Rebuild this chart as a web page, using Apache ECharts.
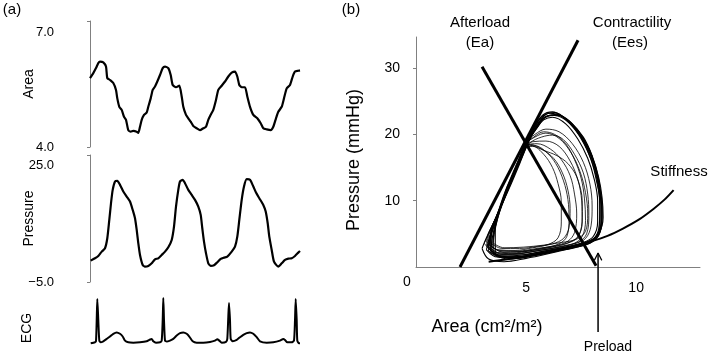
<!DOCTYPE html>
<html>
<head>
<meta charset="utf-8">
<script src="https://cdn.jsdelivr.net/npm/echarts@6/dist/echarts.min.js"></script>
<style>
  html, body { margin: 0; padding: 0; background: #fff; }
  #chart { width: 711px; height: 354px; }
</style>
</head>
<body>
<div id="chart"></div>
<script>
// (a) 时间轴 ms
const areaTrace = [
  [0,5.80],[33,5.93],[60,6.06],[83,6.19],[100,6.23],[133,6.21],[160,6.10],[173,5.80],[200,5.75],[233,5.67],
  [260,5.49],[273,5.27],[293,5.05],[317,4.97],[340,4.79],[360,4.71],[383,4.44],[407,4.40],[433,4.42],[467,4.40],
  [483,4.37],[500,4.53],[517,4.71],[540,4.84],[567,4.90],[583,5.05],[607,5.27],[627,5.49],[650,5.58],[673,5.71],
  [700,5.88],[727,6.06],[750,6.10],[783,6.06],[807,5.88],[827,5.62],[860,5.56],[893,5.60],[917,5.32],[933,5.05],
  [960,4.84],[983,4.75],[1007,4.66],[1033,4.55],[1067,4.49],[1100,4.44],[1133,4.49],[1160,4.53],[1183,4.71],[1207,4.84],
  [1233,4.97],[1260,5.23],[1283,5.49],[1317,5.60],[1350,5.71],[1383,5.84],[1417,5.94],[1450,5.97],[1473,5.84],[1493,5.62],
  [1517,5.56],[1550,5.56],[1573,5.32],[1600,5.05],[1633,4.84],[1673,4.75],[1707,4.62],[1733,4.49],[1767,4.46],[1807,4.44],
  [1833,4.53],[1860,4.75],[1883,4.92],[1917,5.05],[1940,5.27],[1967,5.53],[2000,5.62],[2027,5.84],[2050,5.97],[2083,5.99],[2100,6.00]
]

const pressureTrace = [
  [7,0.52],[50,1.12],[83,1.72],[117,2.84],[150,3.71],[173,6.29],[193,11.03],[210,15.34],[227,18.79],[250,20.95],
  [273,21.12],[300,20.09],[333,18.36],[367,17.07],[400,15.78],[427,13.62],[450,11.47],[467,8.45],[483,5.0],[500,1.98],
  [527,-0.60],[550,-1.03],[583,-0.86],[617,-0.17],[650,0.86],[683,1.12],[717,1.98],[750,2.84],[783,3.97],[817,5.86],
  [840,9.31],[860,14.48],[883,18.79],[900,20.95],[927,21.38],[950,20.52],[983,18.79],[1017,17.50],[1050,16.21],[1083,14.48],
  [1107,12.33],[1123,8.88],[1140,5.43],[1160,2.41],[1183,-0.17],[1207,-0.86],[1240,-0.69],[1273,0.09],[1307,0.95],[1340,1.29],
  [1373,1.55],[1417,2.84],[1450,4.14],[1473,6.72],[1493,11.03],[1517,16.21],[1540,19.66],[1567,21.55],[1600,21.38],[1633,19.66],
  [1660,18.10],[1693,16.64],[1733,14.91],[1757,13.19],[1777,10.17],[1793,6.72],[1817,3.28],[1840,0.26],[1883,-1.03],[1917,-0.17],
  [1950,0.69],[1983,1.03],[2017,1.12],[2050,1.72],[2083,2.59],[2100,3.02]
]

const ecgTrace = [
  [7,-0.03],[50,0],[60,0.03],[67,0.65],[73,1.27],[83,0.65],[93,0.05],[107,0],[133,0.03],[167,0.10],
  [200,0.17],[233,0.25],[267,0.29],[300,0.25],[327,0.17],[350,0.05],[383,0],[433,-0.01],[500,0],[567,0.03],
  [593,0.07],[617,0.10],[633,0.03],[660,-0.01],[700,0],[717,0.05],[727,0.65],[733,1.30],[740,0.65],[750,0.05],
  [767,0.02],[800,0.05],[833,0.10],[867,0.20],[900,0.27],[933,0.29],[967,0.25],[993,0.17],[1027,0.03],[1067,-0.01],
  [1133,-0.01],[1200,0.01],[1250,0.05],[1273,0.09],[1293,0.05],[1317,-0.01],[1360,0.01],[1373,0.10],[1383,0.75],[1390,1.15],
  [1400,0.65],[1407,0.10],[1427,0.03],[1467,0.07],[1500,0.15],[1533,0.22],[1567,0.27],[1600,0.29],[1633,0.25],[1667,0.15],
  [1700,0.03],[1767,-0.01],[1833,0],[1900,0.05],[1933,0.10],[1950,0.07],[1973,0],[2017,0],[2040,0.05],[2050,0.65],
  [2057,1.27],[2067,0.65],[2073,0.05],[2090,-0.03],[2100,-0.03]
]

// (b) 压力-面积环 [area, pressure]
const outerLoops = [
  [[3.4,2.2],[4.0,1.6],[5.0,1.9],[6.0,2.5],[7.0,3.1],[7.8,3.7],[8.2,4.6],[8.4,6.5],[8.4,9.5],[8.3,12.5],[8.1,15.5],[7.7,18.5],[7.2,21],[6.6,22.8],[6.1,23.2],[5.7,22.6],[5.3,20.5],[5.0,18.6],[4.6,15.4],[4.1,11.8],[3.7,8],[3.4,4.8],[3.4,2.2]],
  [[3.2,2.6],[3.7,1.5],[4.6,1.5],[5.6,2.1],[6.6,2.8],[7.5,3.5],[8.1,4.3],[8.35,6.2],[8.35,9.8],[8.2,13],[7.95,16.2],[7.5,19.5],[6.9,22],[6.3,23.3],[5.9,23],[5.5,21.5],[5.1,19.2],[4.7,15.8],[4.2,12],[3.7,7.8],[3.35,4.6],[3.2,2.6]],
  [[3.5,2.0],[4.2,1.2],[5.2,1.6],[6.2,2.3],[7.2,3.0],[7.9,3.8],[8.3,5.0],[8.5,7.5],[8.45,10.5],[8.3,13.5],[8.0,16.8],[7.6,19.6],[7.0,21.9],[6.5,22.9],[6.0,22.8],[5.6,21.8],[5.25,19.8],[4.95,17.6],[4.5,14.2],[4.0,10.5],[3.65,6.6],[3.5,3.8],[3.5,2.0]],
  [[3.3,3.0],[3.8,1.8],[4.8,1.8],[5.8,2.4],[6.8,3.0],[7.6,3.7],[8.05,4.6],[8.25,6.8],[8.25,10],[8.1,13.2],[7.8,16.4],[7.35,19.3],[6.8,21.6],[6.2,22.6],[5.8,22.2],[5.45,20.8],[5.1,18.9],[4.75,16.2],[4.3,12.6],[3.8,8.6],[3.45,5.2],[3.3,3.0]],
  [[3.6,1.8],[4.4,1.3],[5.4,1.8],[6.4,2.4],[7.3,3.0],[8.0,3.8],[8.35,5.2],[8.45,8.2],[8.35,11.5],[8.2,14.3],[7.9,17.5],[7.4,20.4],[6.9,22.2],[6.3,23.0],[5.85,22.5],[5.5,21],[5.15,19.4],[4.85,17.2],[4.4,13.6],[3.9,9.6],[3.6,5.8],[3.6,1.8]],
  [[3.0,2.8],[3.3,1.2],[4.0,0.8],[5.0,1.3],[6.0,2.0],[7.0,2.8],[7.9,3.6],[8.3,4.8],[8.45,7.0],[8.4,10.2],[8.25,13.2],[8.0,16.2],[7.6,19.2],[7.0,21.8],[6.4,22.9],[5.9,22.7],[5.5,21.2],[5.15,19.2],[4.7,15.5],[4.2,11.6],[3.6,7.2],[3.2,4.4],[3.0,2.8]],
  [[3.3,2.4],[3.9,1.4],[4.9,1.6],[5.9,2.2],[6.9,2.9],[7.7,3.6],[8.15,4.5],[8.4,6.4],[8.45,9.2],[8.35,12.2],[8.15,15.2],[7.8,18.2],[7.3,20.8],[6.7,22.6],[6.2,23.4],[5.75,22.9],[5.35,21.0],[5.05,19.0],[4.65,15.6],[4.15,11.8],[3.65,7.4],[3.35,4.4],[3.3,2.4]],
  [[3.4,2.5],[3.8,1.7],[4.7,1.6],[5.7,2.2],[6.7,2.9],[7.6,3.6],[8.1,4.4],[8.3,5.8],[8.35,8.6],[8.3,11.6],[8.1,14.8],[7.75,17.8],[7.25,20.6],[6.7,22.4],[6.15,22.9],[5.7,22.2],[5.35,20.4],[5.05,18.7],[4.7,16.0],[4.25,12.4],[3.8,8.4],[3.5,5.0],[3.4,2.5]]
]

const innerLoops = [
  [[3.2,3.3],[3.6,2.0],[4.4,1.9],[5.4,2.4],[6.4,2.9],[7.2,3.5],[7.7,4.3],[7.95,6.2],[8.0,9.2],[7.9,12.5],[7.6,15.8],[7.1,18.6],[6.5,20.4],[5.9,20.8],[5.4,20.0],[5.05,18.9],[4.7,16.4],[4.25,12.8],[3.75,8.4],[3.35,5.2],[3.2,3.3]],
  [[3.4,2.8],[3.9,1.9],[4.8,2.1],[5.8,2.6],[6.7,3.2],[7.4,3.8],[7.75,5.0],[7.85,7.8],[7.8,11],[7.6,14.2],[7.2,17],[6.7,19.2],[6.2,19.9],[5.7,19.6],[5.2,18.8],[4.9,17.6],[4.5,14.6],[4.05,11],[3.6,6.8],[3.4,4.4],[3.4,2.8]],
  [[3.1,3.6],[3.5,2.3],[4.3,2.1],[5.3,2.5],[6.2,3.0],[6.9,3.6],[7.35,4.5],[7.55,6.8],[7.55,10],[7.35,13.2],[7.0,16],[6.5,18.2],[5.9,19.0],[5.3,18.9],[5.0,18.3],[4.65,15.6],[4.2,12],[3.7,7.8],[3.3,5],[3.1,3.6]],
  [[3.3,3.4],[3.8,2.5],[4.6,2.4],[5.5,2.8],[6.3,3.2],[6.9,3.9],[7.2,5.2],[7.3,8],[7.2,11],[7.0,13.8],[6.6,16.2],[6.1,17.8],[5.5,18.6],[5.05,18.4],[4.8,17.0],[4.4,13.8],[3.95,10],[3.5,6.4],[3.3,3.4]],
  [[3.5,2.9],[4.0,2.2],[4.9,2.4],[5.8,2.9],[6.5,3.5],[6.85,4.6],[6.95,7.2],[6.9,10.2],[6.7,13],[6.35,15.6],[5.9,17.4],[5.4,18.3],[5.0,18.1],[4.75,16.8],[4.35,13.6],[3.9,9.6],[3.55,5.8],[3.5,2.9]],
  [[3.2,3.8],[3.7,2.6],[4.5,2.5],[5.3,2.9],[6.0,3.4],[6.45,4.4],[6.6,6.8],[6.6,9.8],[6.45,12.6],[6.2,15],[5.8,17],[5.3,18.2],[4.95,18.0],[4.6,15.8],[4.15,12.2],[3.65,7.6],[3.3,5.2],[3.2,3.8]],
  [[3.4,3.2],[3.9,2.3],[4.7,2.3],[5.6,2.7],[6.4,3.2],[7.0,3.8],[7.4,4.8],[7.55,7.5],[7.5,10.8],[7.3,13.6],[6.9,15.6],[6.4,16.8],[5.8,17.6],[5.3,18.3],[5.0,18.4],[4.7,16.2],[4.25,12.6],[3.8,8.6],[3.4,5.2],[3.4,3.2]],
  [[3.5,3.6],[4.0,2.9],[4.9,3.0],[5.8,3.3],[6.6,3.7],[7.3,4.2],[7.7,5.4],[7.8,8.0],[7.7,11.2],[7.45,14.4],[7.05,17.2],[6.5,19.4],[5.9,20.2],[5.4,19.6],[5.0,18.6],[4.6,15.2],[4.15,11.4],[3.7,7.2],[3.5,3.6]],
  [[3.3,3.1],[3.8,2.1],[4.6,2.0],[5.6,2.5],[6.5,3.0],[7.2,3.6],[7.55,4.6],[7.7,7.0],[7.65,10.4],[7.5,13.4],[7.2,16.2],[6.8,18.6],[6.3,20.0],[5.8,20.4],[5.35,19.6],[5.0,18.5],[4.6,15.4],[4.1,11.4],[3.65,7.2],[3.35,4.6],[3.3,3.1]],
  [[3.4,3.6],[3.9,2.8],[4.7,2.8],[5.5,3.1],[6.2,3.5],[6.7,4.3],[6.95,6.0],[7.0,8.8],[6.9,11.6],[6.65,14.2],[6.25,16.4],[5.7,17.8],[5.2,18.5],[4.95,18.2],[4.65,16.0],[4.2,12.4],[3.75,8.4],[3.45,5.4],[3.4,3.6]]
]

const eesLine = [[2.0, 0], [7.36, 34.2]]
const eaLine = [[3.0, 30.2], [8.18, 0.2]]
const stiffnessCurve = [[3.3,0.8],[4.0,1.1],[5.0,1.6],[6.0,2.2],[7.0,3.0],[8.0,3.9],[8.7,4.7],[9.4,5.8],[10.1,7.1],[10.8,8.8],[11.3,10.2],[11.7,11.6]]
const preloadShaft = [[8.27, -9.8], [8.27, 2.1]]
const preloadHead = [[8.1, 1.0], [8.27, 2.1], [8.44, 1.0]]

const areaLabels = [4, 7]
const pressureLabels = [-5, 25]
const pvYLabels = [10, 20, 30]
const pvXLabels = [0, 5, 10]

const FONT = 'Liberation Sans, Arial, sans-serif'
const axisGray = '#808080'

function traceSeries (data, idx, width) {
  return {
    type: 'line', xAxisIndex: idx, yAxisIndex: idx, data: data,
    showSymbol: false, smooth: 0.2, clip: false, silent: true,
    lineStyle: { color: '#000', width: width }
  }
}

function leftAxis (idx, min, max, labels, name) {
  return {
    gridIndex: idx, type: 'value', min: min, max: max, offset: 20,
    splitLine: { show: false },
    axisLine: { show: true, lineStyle: { color: axisGray, width: 1 } },
    axisTick: { show: true, length: 3, customValues: [min, max], lineStyle: { color: axisGray } },
    axisLabel: {
      customValues: labels, margin: 16, color: '#000', fontSize: 13, fontFamily: FONT,
      formatter: v => (v < 0 ? '\u2212' + Math.abs(v).toFixed(1) : v.toFixed(1))
    },
    name: name, nameLocation: 'middle', nameGap: 34, nameRotate: 90, nameMoveOverlap: false,
    nameTextStyle: { color: '#000', fontSize: 14, fontFamily: FONT }
  }
}

function txt (text, x, y, size, rot) {
  return {
    type: 'text', x: x, y: y, rotation: rot || 0,
    style: { text: text, fill: '#000', font: size + 'px ' + FONT, textAlign: 'center', textVerticalAlign: 'middle', align: 'center', verticalAlign: 'middle' }
  }
}

function pvSeries (data, width, smooth) {
  return {
    type: 'line', xAxisIndex: 3, yAxisIndex: 3, data: data,
    showSymbol: false, smooth: smooth, clip: false, silent: true,
    lineStyle: { color: '#000', width: width }
  }
}

const chart = echarts.init(document.getElementById('chart'))

const series = [
  traceSeries(areaTrace, 0, 2.2),
  traceSeries(pressureTrace, 1, 2.2),
  traceSeries(ecgTrace, 2, 2)
]
innerLoops.forEach(loop => series.push(pvSeries(loop, 0.8, 0.35)))
outerLoops.forEach(loop => series.push(pvSeries(loop, 1.1, 0.35)))
series.push(pvSeries(stiffnessCurve, 2, 0.3))
series.push(pvSeries(eesLine, 3, false))
series.push(pvSeries(eaLine, 3, false))
series.push(pvSeries(preloadShaft, 1.5, false))
series.push(pvSeries(preloadHead, 1.2, false))

chart.setOption({
  animation: false,
  backgroundColor: '#fff',
  grid: [
    { left: 90, width: 210, top: 21, height: 126, outerBoundsMode: 'none' },
    { left: 90, width: 210, top: 155, height: 127, outerBoundsMode: 'none' },
    { left: 90, width: 210, top: 298, height: 46, outerBoundsMode: 'none' },
    { left: 416, right: 11, top: 37, bottom: 87, outerBoundsMode: 'none' }
  ],
  xAxis: [
    { gridIndex: 0, type: 'value', min: 0, max: 2100, show: false },
    { gridIndex: 1, type: 'value', min: 0, max: 2100, show: false },
    { gridIndex: 2, type: 'value', min: 0, max: 2100, show: false },
    {
      gridIndex: 3, type: 'value', min: 0, max: 12.9,
      splitLine: { show: false },
      axisLine: { show: true, lineStyle: { color: axisGray, width: 1 } },
      axisTick: { show: false },
      axisLabel: {
        customValues: pvXLabels, margin: 8, color: '#000', fontSize: 14, fontFamily: FONT,
        formatter: v => (v === 0 ? '{z|0}' : '{n|' + v + '}'),
        rich: {
          z: { fontSize: 14, fontFamily: FONT, color: '#000', padding: [0, 18, 0, 0] },
          n: { fontSize: 14, fontFamily: FONT, color: '#000', padding: [6, 0, 0, 0] }
        }
      }
    }
  ],
  yAxis: [
    leftAxis(0, 4, 7.29, areaLabels, 'Area'),
    leftAxis(1, -5, 27.8, pressureLabels, 'Pressure'),
    { gridIndex: 2, type: 'value', min: -0.05, max: 1.3, show: false },
    {
      gridIndex: 3, type: 'value', min: 0, max: 34.7,
      splitLine: { show: false },
      axisLine: { show: true, lineStyle: { color: axisGray, width: 1 } },
      axisTick: { show: true, length: 3, customValues: pvYLabels, lineStyle: { color: axisGray } },
      axisLabel: { customValues: pvYLabels, margin: 16, color: '#000', fontSize: 14, fontFamily: FONT }
    }
  ],
  graphic: [
    txt('(a)', 12, 10, 15),
    txt('ECG', 27, 328, 14, Math.PI / 2),
    txt('(b)', 351, 10, 15),
    txt('Afterload', 480, 23, 15),
    txt('(Ea)', 480, 43, 15),
    txt('Contractility', 632, 23, 15),
    txt('(Ees)', 630, 43, 15),
    txt('Stiffness', 679, 172, 15),
    txt('Preload', 608, 347, 14),
    txt('Area (cm\u00b2/m\u00b2)', 487, 327, 18),
    txt('Pressure (mmHg)', 354, 160, 18, Math.PI / 2)
  ],
  series: series
})
</script>
</body>
</html>
